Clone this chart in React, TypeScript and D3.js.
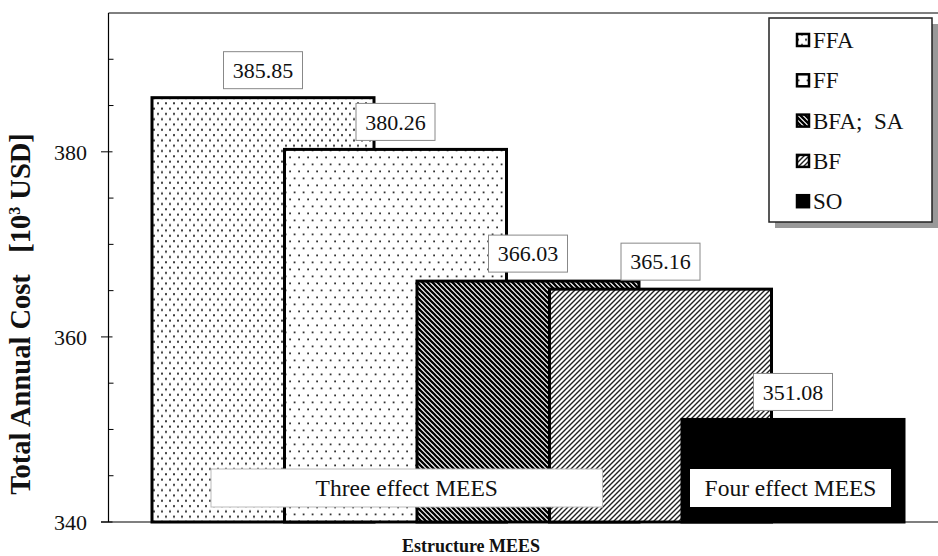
import React from 'react';
import * as d3 from 'd3';

const categories = ['FFA', 'FF', 'BFA;  SA', 'BF', 'SO'];
const values = [385.85, 380.26, 366.03, 365.16, 351.08];
const patternIds = ['pFFA', 'pFF', 'pBFA', 'pBF', 'pSO'];
const yTickLabels = [340, 360, 380];
const yMinorTicks = [345, 350, 355, 365, 370, 375, 385, 390];
const groupLabels = ['Three effect MEES', 'Four effect MEES'];

const W = 938;
const H = 556;
const FONT = '"Liberation Serif", "Times New Roman", serif';

export default function App() {
  const y = d3.scaleLinear().domain([340, 395]).range([522, 13]);
  const x = d3.scaleLinear().domain([0, 4]).range([152, 682]);
  const barW = 222;
  const axisX = 108.5;

  const fillFor = (i: number) => (i === 4 ? '#000' : `url(#${patternIds[i]})`);

  // annotation boxes (layout)
  const groupBoxes = [
    { x0: x(0) + 59, x1: x(3) + 53, text: groupLabels[0], border: '#bbb' },
    { x0: x(4) + 8, x1: x(4) + 209, text: groupLabels[1], border: 'none' },
  ];

  return (
    <svg width={W} height={H} style={{ position: 'absolute', left: 0, top: 0, background: '#fff' }}>
      <defs>
        <pattern id="pFFA" patternUnits="userSpaceOnUse" width={8} height={10.6}>
          <rect width={8} height={10.6} fill="#fff" />
          <rect x={1} y={1.6} width={2} height={2} fill="#3a3a3a" />
          <rect x={5} y={6.9} width={2} height={2} fill="#3a3a3a" />
        </pattern>
        <pattern id="pFF" patternUnits="userSpaceOnUse" width={9} height={14}>
          <rect width={9} height={14} fill="#fff" />
          <rect x={1.2} y={2.5} width={1.8} height={1.8} fill="#333" />
          <rect x={5.7} y={9.5} width={1.8} height={1.8} fill="#333" />
        </pattern>
        <pattern id="pBFA" patternUnits="userSpaceOnUse" width={5} height={5}>
          <rect width={5} height={5} fill="#fff" />
          <path d="M-1,-1 L6,6 M-1,4 L1,6 M4,-1 L6,1" stroke="#000" strokeWidth={2.3} />
        </pattern>
        <pattern id="pBF" patternUnits="userSpaceOnUse" width={5} height={5}>
          <rect width={5} height={5} fill="#fff" />
          <path d="M-1,6 L6,-1 M-1,1 L1,-1 M4,6 L6,4" stroke="#222" strokeWidth={1.4} />
        </pattern>
        <pattern id="pSO" patternUnits="userSpaceOnUse" width={5} height={5}>
          <rect width={5} height={5} fill="#000" />
        </pattern>
      </defs>

      {/* top border */}
      <line x1={axisX} x2={W} y1={y(395)} y2={y(395)} stroke="#000" strokeWidth={1} />
      {/* bottom axis */}
      <line x1={101} x2={W} y1={y(340)} y2={y(340)} stroke="#000" strokeWidth={1.2} />
      {/* left axis */}
      <line x1={axisX} x2={axisX} y1={y(395)} y2={y(340)} stroke="#000" strokeWidth={1.2} />

      {yMinorTicks.map((t) => (
        <line key={'m' + t} x1={axisX} x2={axisX + 5} y1={y(t)} y2={y(t)} stroke="#000" strokeWidth={1} />
      ))}
      {yTickLabels.map((t) => (
        <g key={'t' + t}>
          <line x1={101} x2={axisX + 4} y1={y(t)} y2={y(t)} stroke="#000" strokeWidth={1} />
          <text x={87} y={y(t)} dy="0.35em" textAnchor="end" fontFamily={FONT} fontSize={22} fill="#111">
            {t}
          </text>
        </g>
      ))}

      {/* bars */}
      {values.map((v, i) => (
        <rect
          key={'b' + i}
          x={x(i)}
          y={y(v)}
          width={barW}
          height={y(340) - y(v)}
          fill={fillFor(i)}
          stroke="#000"
          strokeWidth={3}
        />
      ))}

      {/* value labels */}
      {values.map((v, i) => {
        const cx = x(i) + barW / 2;
        const by = y(v) - 9;
        return (
          <g key={'l' + i}>
            <rect x={cx - 39.5} y={by - 37} width={79} height={37} fill="#fff" stroke="#888" strokeWidth={1} />
            <text x={cx} y={by - 18.5} dy="0.35em" textAnchor="middle" fontFamily={FONT} fontSize={22} fill="#111">
              {v.toFixed(2)}
            </text>
          </g>
        );
      })}

      {/* group annotation boxes */}
      {groupBoxes.map((g, i) => (
        <g key={'g' + i}>
          <rect x={g.x0} y={469} width={g.x1 - g.x0} height={38} fill="#fff" stroke={g.border} strokeWidth={1} />
          <text x={(g.x0 + g.x1) / 2} y={488} dy="0.35em" textAnchor="middle" fontFamily={FONT} fontSize={23.5} fill="#111">
            {g.text}
          </text>
        </g>
      ))}

      {/* legend */}
      <rect x={775} y={24} width={163} height={204} fill="#999" />
      <rect x={769} y={18} width={163} height={204} fill="#fff" stroke="#222" strokeWidth={1.5} />
      {categories.map((c, i) => {
        const cy = 40 + i * 40.3;
        return (
          <g key={'lg' + i}>
            <rect x={797} y={cy - 6} width={12} height={12} fill={fillFor(i)} stroke="#000" strokeWidth={2.5} />
            <text x={813} y={cy} dy="0.35em" fontFamily={FONT} fontSize={23} fill="#111" style={{ whiteSpace: 'pre' }}>
              {c}
            </text>
          </g>
        );
      })}

      {/* axis titles */}
      <text
        transform={`translate(30,314) rotate(-90)`}
        textAnchor="middle"
        fontFamily={FONT}
        fontSize={28.5}
        fontWeight="bold"
        fill="#111"
        style={{ whiteSpace: 'pre' }}
      >
        Total Annual Cost   [10<tspan fontSize={16} dy={-10}>3</tspan><tspan dy={10}> USD]</tspan>
      </text>
      <text x={471} y={552} textAnchor="middle" fontFamily={FONT} fontSize={18} fontWeight="bold" fill="#111">
        Estructure MEES
      </text>
    </svg>
  );
}
